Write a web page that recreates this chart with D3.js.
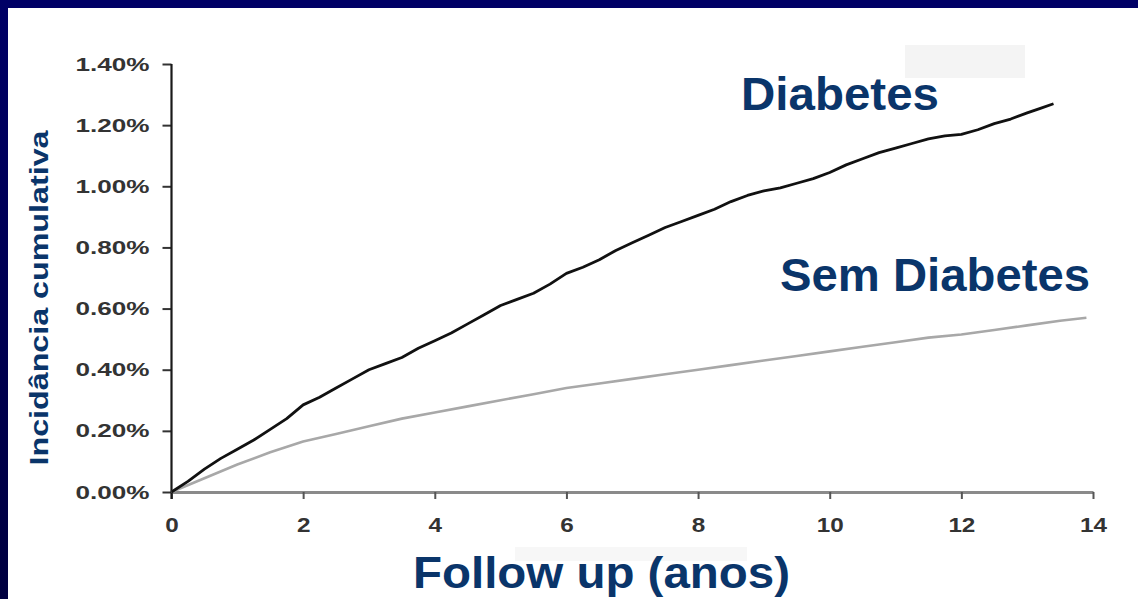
<!DOCTYPE html>
<html>
<head>
<meta charset="utf-8">
<script src="https://cdn.jsdelivr.net/npm/d3@7"></script>
<style>
  html, body { margin: 0; padding: 0; background: #ffffff; }
  svg { display: block; }
  text { font-family: "Liberation Sans", Arial, Helvetica, sans-serif; font-weight: bold; }
</style>
</head>
<body>
<svg id="chart" width="1138" height="599"></svg>
<script>
// Follow-up time (years) and cumulative incidence (%) for each group
const diabetesYears = [0, 0.25, 0.5, 0.75, 1, 1.25, 1.5, 1.75, 2, 2.25, 2.5, 2.75, 3, 3.25, 3.5, 3.75,
  4, 4.25, 4.5, 4.75, 5, 5.25, 5.5, 5.75, 6, 6.25, 6.5, 6.75, 7, 7.25, 7.5, 7.75, 8, 8.25, 8.5, 8.75,
  9, 9.25, 9.5, 9.75, 10, 10.25, 10.5, 10.75, 11, 11.25, 11.5, 11.75, 12, 12.25, 12.5, 12.75, 13, 13.2, 13.4];
const diabetesIncidence = [0, 0.035, 0.075, 0.11, 0.14, 0.17, 0.205, 0.24, 0.285, 0.31, 0.34, 0.37, 0.40, 0.42, 0.44, 0.47,
  0.495, 0.52, 0.55, 0.58, 0.61, 0.63, 0.65, 0.68, 0.715, 0.735, 0.76, 0.79, 0.815, 0.84, 0.865, 0.885, 0.905, 0.925, 0.95, 0.97,
  0.985, 0.995, 1.01, 1.025, 1.045, 1.07, 1.09, 1.11, 1.125, 1.14, 1.155, 1.165, 1.17, 1.185, 1.205, 1.22, 1.24, 1.255, 1.27];

const semDiabetesYears = [0, 0.5, 1, 1.5, 2, 2.5, 3, 3.5, 4, 4.5, 5, 5.5, 6, 6.5, 7, 7.5, 8, 8.5, 9, 9.5,
  10, 10.5, 11, 11.5, 12, 12.5, 13, 13.5, 13.9];
const semDiabetesIncidence = [0, 0.045, 0.09, 0.13, 0.165, 0.19, 0.215, 0.24, 0.26, 0.28, 0.30, 0.32, 0.34, 0.355, 0.37, 0.385,
  0.40, 0.415, 0.43, 0.445, 0.46, 0.475, 0.49, 0.505, 0.515, 0.53, 0.545, 0.56, 0.57];

const xTickValues = [0, 2, 4, 6, 8, 10, 12, 14];
const yTickValues = [0, 0.2, 0.4, 0.6, 0.8, 1.0, 1.2, 1.4];

const seriesLabels = ["Diabetes", "Sem Diabetes"];
const xTitle = "Follow up (anos)";
const yTitle = "Incidância cumulativa";

const svg = d3.select("#chart");
const W = 1138, H = 599;

// navy frame on the top and left edges
const defs = svg.append("defs");
const grad = defs.append("linearGradient").attr("id", "edge").attr("x1", 0).attr("y1", 0).attr("x2", 0).attr("y2", 1);
grad.append("stop").attr("offset", "0%").attr("stop-color", "#000066");
grad.append("stop").attr("offset", "100%").attr("stop-color", "#000040");
svg.append("rect").attr("x", 0).attr("y", 0).attr("width", W).attr("height", H).attr("fill", "#ffffff");
svg.append("rect").attr("x", 0).attr("y", 0).attr("width", W).attr("height", 8).attr("fill", "#000066");
svg.append("rect").attr("x", 0).attr("y", 0).attr("width", 8).attr("height", H).attr("fill", "url(#edge)");

// faint patches behind some labels
svg.append("rect").attr("x", 905).attr("y", 45).attr("width", 120).attr("height", 33).attr("fill", "#f4f4f4");
svg.append("rect").attr("x", 515).attr("y", 547).attr("width", 232).attr("height", 14).attr("fill", "#f7f7f7");

const x = d3.scaleLinear().domain([0, 14]).range([171.5, 1093]);
const y = d3.scaleLinear().domain([0, 1.4]).range([492, 64]);

// x axis: grey baseline with short ticks
const xAxis = svg.append("g")
  .attr("transform", `translate(0,${y(0)})`)
  .call(d3.axisBottom(x).tickValues(xTickValues).tickSize(7).tickSizeOuter(0).tickPadding(19).tickFormat(d3.format("d")));
xAxis.select(".domain").attr("stroke", "#8a8a8a").attr("stroke-width", 3);
xAxis.selectAll(".tick line").attr("stroke", "#555").attr("stroke-width", 2);
xAxis.selectAll(".tick text")
  .attr("fill", "#333").attr("font-size", 20).attr("font-family", null)
  .each(function (d) {
    d3.select(this).attr("textLength", String(d).length * 13.5).attr("lengthAdjust", "spacingAndGlyphs");
  });

// y axis: black vertical line with left ticks
const yAxis = svg.append("g")
  .attr("transform", `translate(${x(0)},0)`)
  .call(d3.axisLeft(y).tickValues(yTickValues).tickSize(9).tickSizeOuter(0).tickPadding(13)
    .tickFormat(d => d3.format(".2f")(d) + "%"));
yAxis.select(".domain").remove();
yAxis.selectAll(".tick line").attr("stroke", "#333").attr("stroke-width", 2);
yAxis.selectAll(".tick text")
  .attr("fill", "#333").attr("font-size", 19).attr("font-family", null)
  .attr("textLength", 74).attr("lengthAdjust", "spacingAndGlyphs");
svg.append("line")
  .attr("x1", x(0)).attr("x2", x(0))
  .attr("y1", y(1.4)).attr("y2", y(0) + 7)
  .attr("stroke", "#1a1a1a").attr("stroke-width", 2.2);

// incidence curves
const line = d3.line().x(d => x(d[0])).y(d => y(d[1]));
svg.append("path")
  .datum(d3.zip(semDiabetesYears, semDiabetesIncidence))
  .attr("d", line).attr("fill", "none")
  .attr("stroke", "#a8a8a8").attr("stroke-width", 2.6).attr("stroke-linejoin", "round");
svg.append("path")
  .datum(d3.zip(diabetesYears, diabetesIncidence))
  .attr("d", line).attr("fill", "none")
  .attr("stroke", "#111").attr("stroke-width", 2.8).attr("stroke-linejoin", "round");

// series and axis titles
const navy = "#0a356a";
svg.append("text").attr("x", 741).attr("y", 110).attr("font-size", 46).attr("fill", navy)
  .attr("textLength", 198).attr("lengthAdjust", "spacingAndGlyphs").text(seriesLabels[0]);
svg.append("text").attr("x", 780).attr("y", 291).attr("font-size", 46).attr("fill", navy)
  .attr("textLength", 310).attr("lengthAdjust", "spacingAndGlyphs").text(seriesLabels[1]);
svg.append("text").attr("x", 413).attr("y", 588).attr("font-size", 44).attr("fill", navy)
  .attr("textLength", 377).attr("lengthAdjust", "spacingAndGlyphs").text(xTitle);
svg.append("text")
  .attr("transform", "translate(48,298) rotate(-90)")
  .attr("text-anchor", "middle").attr("font-size", 25).attr("fill", navy)
  .attr("textLength", 335).attr("lengthAdjust", "spacingAndGlyphs").text(yTitle);
</script>
</body>
</html>
